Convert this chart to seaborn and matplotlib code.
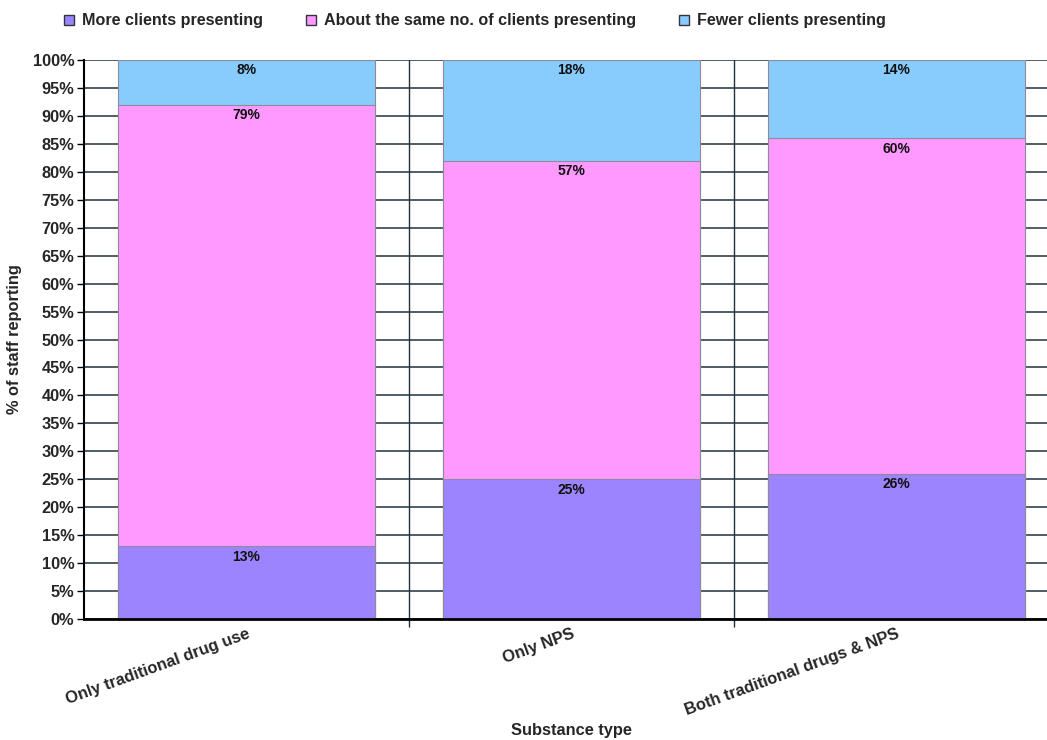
import matplotlib
matplotlib.use("Agg")
import matplotlib.pyplot as plt
from matplotlib.patches import Patch
import pandas as pd
import seaborn as sns

categories = ["Only traditional drug use", "Only NPS", "Both traditional drugs & NPS"]
series_names = ["More clients presenting",
                "About the same no. of clients presenting",
                "Fewer clients presenting"]
more_clients = [13, 25, 26]
same_clients = [79, 57, 60]
fewer_clients = [8, 18, 14]
y_ticks = list(range(0, 101, 5))

colors = ["#9b84fe", "#ff99ff", "#88ccfe"]
grid_color = "#22313d"

sns.set_theme(style="white")
plt.rcParams["font.family"] = ["Liberation Sans", "DejaVu Sans"]
plt.rcParams["font.weight"] = "bold"
plt.rcParams["axes.axisbelow"] = True

df = pd.DataFrame({
    "category": categories,
    "more": more_clients,
    "same": same_clients,
    "fewer": fewer_clients,
})
df["top_more"] = df["more"]
df["top_same"] = df["more"] + df["same"]
df["top_fewer"] = df["top_same"] + df["fewer"]

fig = plt.figure(figsize=(10.47, 7.40), dpi=100)
ax = fig.add_axes([84 / 1047, 1 - 619 / 740, 975 / 1047, 559 / 740])

# stacked bars: draw cumulative totals from tallest to shortest
for col, c in zip(["top_fewer", "top_same", "top_more"], colors[::-1]):
    sns.barplot(data=df, x="category", y=col, color=c, width=0.79,
                saturation=1, edgecolor="#8c8c9c", linewidth=0.8, ax=ax)
for p in ax.patches:
    p.set_zorder(3)

# value labels at the top of each segment
for i in range(len(categories)):
    for top, val in zip([df["top_more"][i], df["top_same"][i], df["top_fewer"][i]],
                        [more_clients[i], same_clients[i], fewer_clients[i]]):
        ax.annotate(f"{val}%", xy=(i, top), xytext=(0, -7.5),
                    textcoords="offset points", ha="center", va="center",
                    fontsize=10, fontweight="bold", color="#111111", zorder=5)

ax.set_xlim(-0.5, 2.5)
ax.set_ylim(0, 100)
ax.set_yticks(y_ticks)
ax.set_yticklabels([f"{t}%" for t in y_ticks], fontsize=11.8, fontweight="bold")
ax.yaxis.grid(True, color=grid_color, linewidth=1.1)

ax.set_xticks(range(len(categories)))
ax.set_xticklabels(categories, rotation=20, ha="right", va="top",
                   rotation_mode="anchor", fontsize=11.9, fontweight="bold")
ax.set_xticks([0.5, 1.5], minor=True)
ax.tick_params(axis="x", which="major", length=0, pad=5)
ax.tick_params(axis="x", which="minor", length=6, width=1, color=grid_color,
               direction="out", bottom=True)
ax.tick_params(axis="y", length=5, width=1, color="black", direction="out",
               left=True, pad=2)
ax.xaxis.grid(True, which="minor", color=grid_color, linewidth=1.0)
ax.xaxis.grid(False, which="major")
ax.set_axisbelow(True)

for s in ["top", "right"]:
    ax.spines[s].set_visible(False)
ax.spines["left"].set_color("black")
ax.spines["left"].set_linewidth(1.5)
ax.spines["bottom"].set_color("black")
ax.spines["bottom"].set_linewidth(2.0)
ax.spines["left"].set_zorder(6)
ax.spines["bottom"].set_zorder(6)

ax.set_ylabel("% of staff reporting", fontsize=11.8, fontweight="bold", labelpad=8)
ax.set_xlabel("")
fig.text(571 / 1047, 1 - 731 / 740, "Substance type", ha="center", va="center",
         fontsize=11.8, fontweight="bold")

handles = [Patch(facecolor=c, edgecolor="#333344", linewidth=1.0) for c in colors]
fig.legend(handles, series_names, loc="center left",
           bbox_to_anchor=(64 / 1047, 1 - 21 / 740), ncol=3, frameon=False,
           prop={"size": 11.6, "weight": "bold"}, handlelength=0.62, handleheight=0.62,
           handletextpad=0.5, columnspacing=2.65, borderaxespad=0, borderpad=0)

fig.savefig("out.png", dpi=100)
